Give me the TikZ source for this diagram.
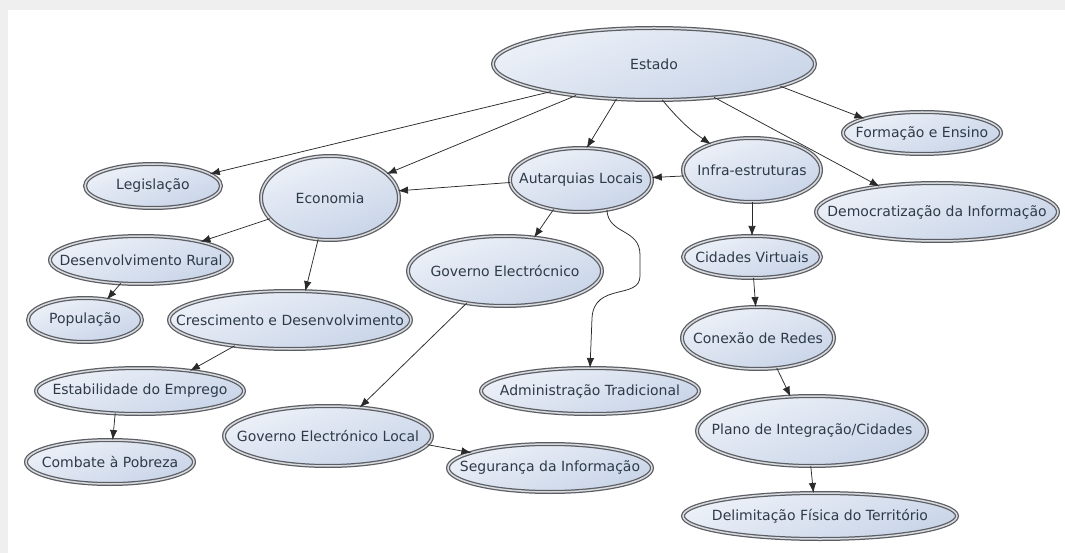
\documentclass[tikz,border=0pt]{standalone}
\usepackage{fontspec}
\setmainfont{DejaVu Sans}
\usetikzlibrary{shapes.geometric,arrows.meta}
\definecolor{rimcol}{HTML}{5A5D63}
\definecolor{gapcol}{HTML}{D8DADE}
\definecolor{filltop}{HTML}{EDF1F8}
\definecolor{fillbot}{HTML}{C8D4E8}
\definecolor{labelcol}{HTML}{2E3A48}
\definecolor{linkcol}{HTML}{2A2A2A}
\definecolor{framecol}{HTML}{EFEFEF}
\begin{document}
\begin{tikzpicture}[x=1pt,y=-1pt,
  concept/.style={ellipse, draw=rimcol, double=gapcol, line width=1.25pt,
    double distance=1.5pt, top color=filltop, bottom color=fillbot,
    shading angle=20,
    inner sep=0pt, outer sep=0pt, text=labelcol,
    font=\fontsize{14}{16}\selectfont},
  link/.style={draw=linkcol, line width=0.75pt,
    -{Latex[length=10pt,width=7.5pt]}}]
% page and light frame
\fill[framecol] (0,0) rectangle (1065,553);
\fill[white] (8,10) rectangle (1065,553);
\useasboundingbox (0,0) rectangle (1065,553);

% concepts
\node[concept, minimum width=322pt, minimum height=72pt] (estado) at (654,64) {\makebox[0pt]{Estado}};
\node[concept, minimum width=158pt, minimum height=42pt] (formacao) at (922,133) {\makebox[0pt]{Formação e Ensino}};
\node[concept, minimum width=242pt, minimum height=58pt] (democ) at (937,212) {\makebox[0pt]{Democratização da Informação}};
\node[concept, minimum width=136pt, minimum height=44pt] (legis) at (153,186) {\makebox[0pt]{Legislação}};
\node[concept, minimum width=138pt, minimum height=84pt] (econ) at (330,198) {\makebox[0pt]{Economia}};
\node[concept, minimum width=182pt, minimum height=48pt] (desrural) at (141,260) {\makebox[0pt]{Desenvolvimento Rural}};
\node[concept, minimum width=114pt, minimum height=44pt] (popul) at (85,320) {\makebox[0pt]{População}};
\node[concept, minimum width=242pt, minimum height=58pt] (cresc) at (290,320) {\makebox[0pt]{Crescimento e Desenvolvimento}};
\node[concept, minimum width=142pt, minimum height=64pt] (autarq) at (581,180) {\makebox[0pt]{Autarquias Locais}};
\node[concept, minimum width=138pt, minimum height=64pt] (infra) at (752,170) {\makebox[0pt]{Infra-estruturas}};
\node[concept, minimum width=194pt, minimum height=70pt] (govele) at (505,271) {\makebox[0pt]{Governo Electrócnico}};
\node[concept, minimum width=138pt, minimum height=42pt] (cidades) at (752,257) {\makebox[0pt]{Cidades Virtuais}};
\node[concept, minimum width=152pt, minimum height=62pt] (conexao) at (758,338) {\makebox[0pt]{Conexão de Redes}};
\node[concept, minimum width=230pt, minimum height=70pt] (plano) at (812,431) {\makebox[0pt]{Plano de Integração/Cidades}};
\node[concept, minimum width=274pt, minimum height=46pt] (delim) at (820,516) {\makebox[0pt]{Delimitação Física do Território}};
\node[concept, minimum width=218pt, minimum height=46pt] (admin) at (590,391) {\makebox[0pt]{Administração Tradicional}};
\node[concept, minimum width=204pt, minimum height=48pt] (segur) at (550,468) {\makebox[0pt]{Segurança da Informação}};
\node[concept, minimum width=208pt, minimum height=60pt] (govlocal) at (328,436) {\makebox[0pt]{Governo Electrónico Local}};
\node[concept, minimum width=208pt, minimum height=46pt] (estab) at (140,391) {\makebox[0pt]{Estabilidade do Emprego}};
\node[concept, minimum width=168pt, minimum height=44pt] (combate) at (110,462) {\makebox[0pt]{Combate à Pobreza}};

% links from Estado
\draw[link] (estado.195) -- (legis.12);
\draw[link] (estado.202) -- (econ.23);
\draw[link] (estado.223) -- (autarq.80);
\draw[link] (estado.283) to[bend right=8] (infra.148);
\draw[link] (estado.350) -- (formacao.166);
\draw[link] (estado.331) -- (democ.156);

% local administration branch
\draw[link] (infra.185) -- (autarq.2);
\draw[link] (autarq.182) -- (econ.6);
\draw[link] (autarq.227) -- (govele.49);
\draw[link] (autarq.311) .. controls (608,235) and (640,228) .. (640,255)
  -- (640,276) .. controls (640,300) and (594,282) .. (592,318) -- (admin.90);
\draw[link] (govele.220) -- (govlocal.42);
\draw[link] (govlocal.355) -- (segur.169);

% infrastructure branch
\draw[link] (infra) -- (cidades);
\draw[link] (cidades) -- (conexao);
\draw[link] (conexao.302) -- (plano.122);
\draw[link] (plano.268) -- (delim.106);

% economy branch
\draw[link] (econ.199) -- (desrural.17);
\draw[link] (econ.254) -- (cresc.62);
\draw[link] (desrural.229) -- (popul.43);
\draw[link] (cresc.205) -- (estab.22);
\draw[link] (estab.222) -- (combate.83);
\end{tikzpicture}
\end{document}
